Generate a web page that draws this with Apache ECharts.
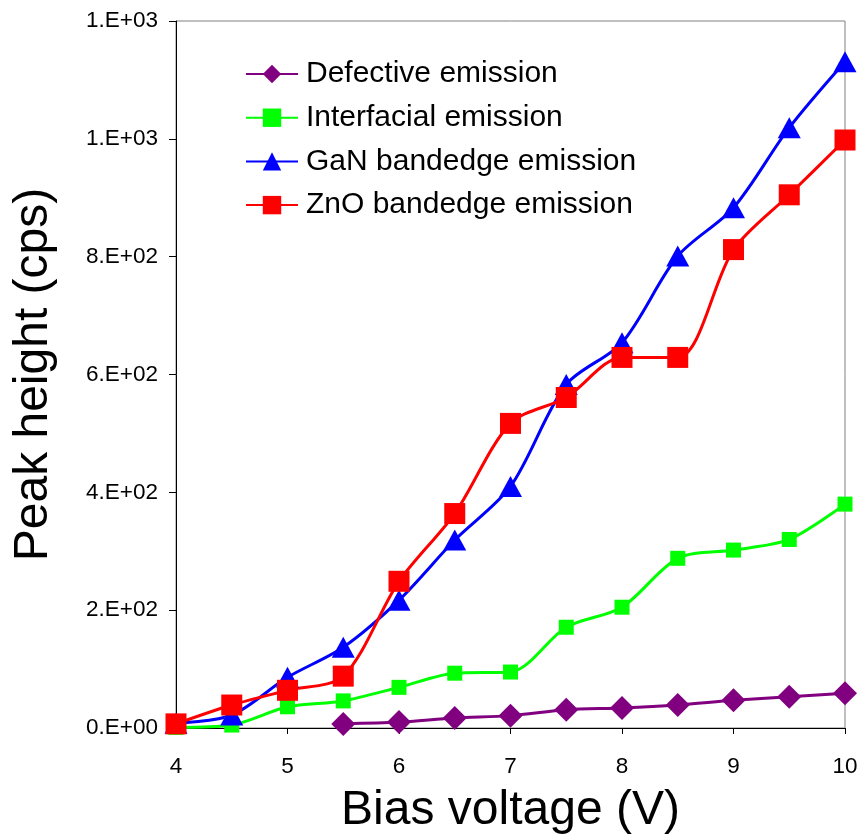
<!DOCTYPE html>
<html>
<head>
<meta charset="utf-8">
<script src="https://cdn.jsdelivr.net/npm/echarts@6/dist/echarts.min.js"></script>
<style>
  html, body { margin: 0; padding: 0; background: #fff; }
  #main { width: 861px; height: 840px; }
</style>
</head>
<body>
<div id="main"></div>
<script>
// bias voltage (V)
var voltage = [4, 4.5, 5, 5.5, 6, 6.5, 7, 7.5, 8, 8.5, 9, 9.5, 10];
// peak heights (cps), null where no point
var defective   = [null, null, null, 7, 10, 17, 21, 31, 34, 39, 47, 53, 59];
var interfacial = [1, 5, 36, 46, 69, 93, 95, 171, 205, 288, 302, 320, 380];
var ganEdge     = [8, 22, 86, 137, 217, 319, 410, 583, 654, 801, 883, 1019, 1131];
var znoEdge     = [7, 39, 64, 88, 249, 364, 517, 561, 629, 629, 812, 905, 998];
var yTickLabels = ['0.E+00', '2.E+02', '4.E+02', '6.E+02', '8.E+02', '1.E+03', '1.E+03'];

function pairs(vals) {
    var out = [];
    for (var i = 0; i < voltage.length; i++) {
        if (vals[i] !== null) out.push([voltage[i], vals[i]]);
    }
    return out;
}

var FONT = '"Liberation Sans", Arial, sans-serif';
var chart = echarts.init(document.getElementById('main'), null, { renderer: 'canvas' });

function lineSeries(name, vals, color, symbol, size) {
    return {
        name: name,
        type: 'line',
        data: pairs(vals),
        smooth: 0.3,
        symbol: symbol,
        symbolSize: size,
        showAllSymbol: true,
        lineStyle: { color: color, width: 3 },
        itemStyle: { color: color },
        emphasis: { disabled: true }
    };
}

var option = {
    animation: false,
    grid: {
        left: 176,
        right: 16,
        top: 21,
        bottom: 111,
        show: true,
        borderColor: '#808080',
        borderWidth: 1
    },
    legend: {
        left: 245,
        top: 59,
        padding: 0,
        orient: 'vertical',
        itemWidth: 52,
        itemHeight: 23,
        itemGap: 13.7,
        textStyle: { fontFamily: FONT, fontSize: 30, color: '#000', lineHeight: 30, padding: [0, 0, 0, 3] },
        data: ['Defective emission', 'Interfacial emission', 'GaN bandedge emission', 'ZnO bandedge emission']
    },
    xAxis: {
        type: 'value',
        min: 4,
        max: 10,
        interval: 1,
        name: 'Bias voltage (V)',
        nameLocation: 'middle',
        nameGap: 59,
        nameTextStyle: { fontFamily: FONT, fontSize: 48, color: '#000' },
        axisLine: { lineStyle: { color: '#000', width: 1 } },
        axisTick: { show: true, length: 6, lineStyle: { color: '#000' } },
        axisLabel: { fontFamily: FONT, fontSize: 22.5, color: '#000', margin: 27 },
        splitLine: { show: false }
    },
    yAxis: {
        type: 'value',
        min: 0,
        max: 1200,
        interval: 200,
        name: 'Peak height (cps)',
        nameLocation: 'middle',
        nameGap: 118,
        nameTextStyle: { fontFamily: FONT, fontSize: 48, color: '#000' },
        axisLine: { show: true, lineStyle: { color: '#000', width: 1 } },
        axisTick: { show: true, length: 7, lineStyle: { color: '#000' } },
        axisLabel: {
            fontFamily: FONT, fontSize: 22.5, color: '#000', margin: 18,
            formatter: function (v) { return yTickLabels[Math.round(v / 200)]; }
        },
        splitLine: { show: false }
    },
    series: [
        lineSeries('Defective emission', defective, '#800080', 'diamond', 24),
        lineSeries('Interfacial emission', interfacial, '#00FF00', 'rect', 15),
        lineSeries('GaN bandedge emission', ganEdge, '#0000FF', 'triangle', [23, 21]),
        lineSeries('ZnO bandedge emission', znoEdge, '#FF0000', 'rect', 21)
    ]
};
chart.setOption(option);
</script>
</body>
</html>
